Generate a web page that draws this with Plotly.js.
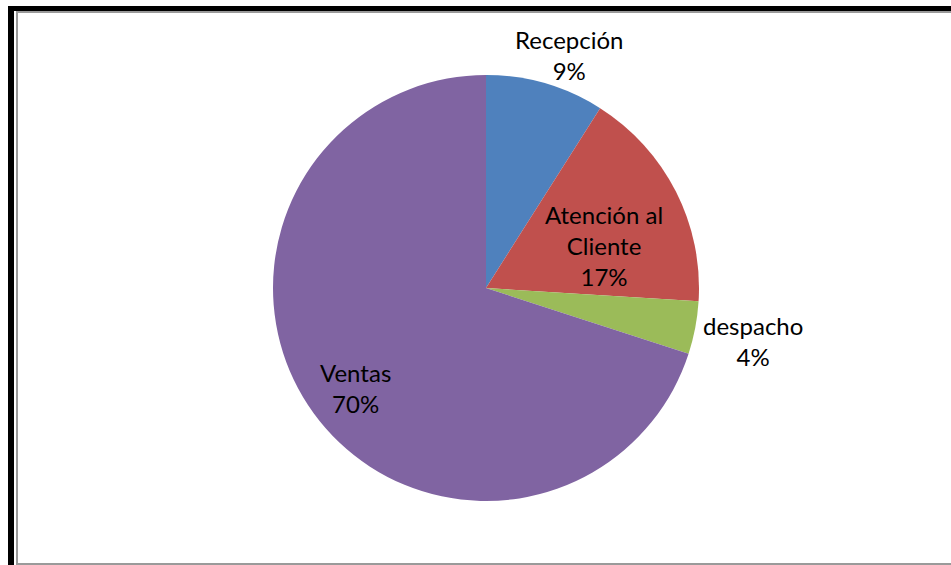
<!DOCTYPE html>
<html>
<head>
<meta charset="utf-8">
<script src="https://cdn.plot.ly/plotly-3.0.1.min.js"></script>
<style>
  html, body { margin: 0; padding: 0; background: #ffffff; }
  #wrap { position: relative; width: 951px; height: 565px; overflow: hidden; }
  #chart { position: absolute; left: 0; top: 0; width: 951px; height: 565px; }
  .bar { position: absolute; pointer-events: none; }
</style>
</head>
<body>
<div id="wrap">
  <div id="chart"></div>
  <div class="bar" style="left:8px;top:6px;width:6px;height:559px;background:#000;"></div>
  <div class="bar" style="left:8px;top:6px;width:943px;height:5px;background:#000;"></div>
  <div class="bar" style="left:16px;top:11px;width:2px;height:553px;background:#9a9a9a;"></div>
  <div class="bar" style="left:16px;top:11px;width:935px;height:2px;background:#9a9a9a;"></div>
  <div class="bar" style="left:16px;top:563px;width:935px;height:2px;background:#9a9a9a;"></div>
</div>
<script>
const categories = ['Recepción', 'Atención al Cliente', 'despacho', 'Ventas'];
const displayLabels = ['Recepción', 'Atención al<br>Cliente', 'despacho', 'Ventas'];
const values = [9, 17, 4, 70];
const colors = ['#4F81BD', '#C0504D', '#9BBB59', '#8064A2'];

// label placement style: radial distance as fraction of pie radius, plus small angular nudge (deg)
const labelRadius = [1.16, 0.59, 1.28, 0.77];
const labelAngleNudge = [3.5, 7, 0.4, -1.4];

const W = 951, H = 565;
const margin = { l: 21, r: 0, t: 75, b: 64 };
const plotW = W - margin.l - margin.r;
const plotH = H - margin.t - margin.b;
const R = Math.min(plotW, plotH) / 2;

const total = values.reduce((a, b) => a + b, 0);
const annotations = [];
let cum = 0;
values.forEach((v, i) => {
  const mid = (cum + v / 2) / total * 360 + labelAngleNudge[i];
  cum += v;
  const rad = mid * Math.PI / 180;
  const dx = labelRadius[i] * R * Math.sin(rad);
  const dy = labelRadius[i] * R * Math.cos(rad);
  annotations.push({
    xref: 'paper', yref: 'paper',
    x: 0.5 + dx / plotW,
    y: 0.5 + dy / plotH,
    xanchor: 'center', yanchor: 'middle',
    showarrow: false,
    align: 'center',
    text: displayLabels[i] + '<br>' + Math.round(v / total * 100) + '%',
    font: { family: 'Lato, "Open Sans", sans-serif', size: 24, color: '#000000' }
  });
});

const trace = {
  type: 'pie',
  labels: categories,
  values: values,
  textinfo: 'none',
  sort: false,
  direction: 'clockwise',
  rotation: 0,
  hole: 0,
  marker: { colors: colors, line: { width: 0 } },
  automargin: false,
  showlegend: false,
  hoverinfo: 'label+percent'
};

const layout = {
  width: W,
  height: H,
  margin: margin,
  paper_bgcolor: '#ffffff',
  plot_bgcolor: '#ffffff',
  showlegend: false,
  annotations: annotations
};

Plotly.newPlot('chart', [trace], layout, { displayModeBar: false, staticPlot: true });
</script>
</body>
</html>
